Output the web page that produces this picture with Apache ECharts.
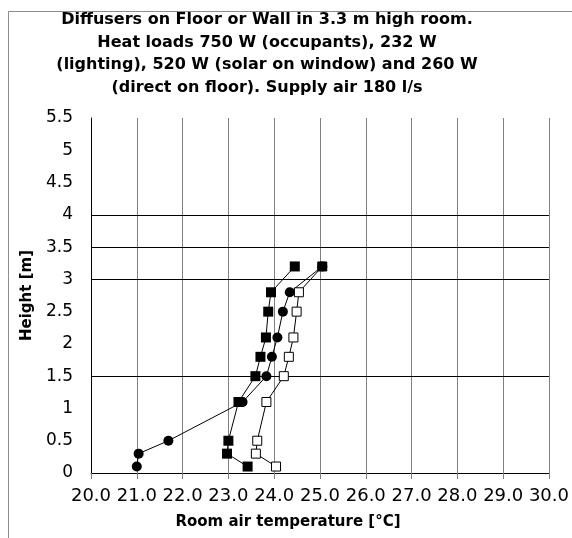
<!DOCTYPE html>
<html>
<head>
<meta charset="utf-8">
<script src="https://cdn.jsdelivr.net/npm/echarts@6/dist/echarts.min.js"></script>
<style>html,body{margin:0;padding:0;background:#fff}#c{width:572px;height:538px}</style>
</head>
<body>
<div id="c"></div>
<script>
// Data
const heights = [0.1, 0.3, 0.5, 1.1, 1.5, 1.8, 2.1, 2.5, 2.8, 3.2];
const tempFilledSquare = [23.42, 22.97, 23.0, 23.22, 23.59, 23.7, 23.82, 23.87, 23.93, 24.45];
const tempCircle = [21.0, 21.04, 21.69, 23.31, 23.83, 23.95, 24.07, 24.19, 24.34, 25.05];
const tempOpenSquare = [24.04, 23.6, 23.63, 23.83, 24.21, 24.32, 24.42, 24.49, 24.54, 25.05];
const gridHeights = [1.5, 3, 3.5, 4];
const titleText = 'Diffusers on Floor or Wall in 3.3 m high room.\nHeat loads 750 W (occupants), 232 W\n(lighting), 520 W (solar on window) and 260 W\n(direct on floor). Supply air 180 l/s';
const xName = 'Room air temperature [°C]';
const yName = 'Height [m]';

const FONT = 'DejaVu Sans';
function pairs(xs) { return xs.map((x, i) => [x, heights[i]]); }

const chart = echarts.init(document.getElementById('c'), null, {renderer: 'canvas'});
const openData = pairs(tempOpenSquare).map((p, i) => i === tempOpenSquare.length - 1 ? {value: p, itemStyle: {color: '#000'}} : p);

chart.setOption({
  animation: false,
  backgroundColor: '#fff',
  graphic: [{
    type: 'rect', left: 6, top: 9, silent: true, z: -10,
    shape: {width: 700, height: 700},
    style: {fill: 'none', stroke: '#8c8c8c', lineWidth: 1}
  }],
  title: {
    text: titleText,
    left: 262, top: 4, textAlign: 'center',
    textStyle: {fontFamily: FONT, fontWeight: 'bold', fontSize: 16, lineHeight: 22.5, color: '#000'}
  },
  grid: {left: 91, right: 23, top: 118, bottom: 65, containLabel: false},
  xAxis: {
    type: 'value', min: 20, max: 30, interval: 1,
    name: xName, nameLocation: 'middle', nameGap: 42,
    nameTextStyle: {fontFamily: FONT, fontWeight: 'bold', fontSize: 15, color: '#000', padding: [0, 64, 0, 0]},
    axisLine: {show: true, lineStyle: {color: '#000', width: 1}},
    axisTick: {show: true, length: 6, lineStyle: {color: '#808080'}},
    axisLabel: {fontFamily: FONT, fontSize: 18, color: '#000', margin: 14, formatter: v => v.toFixed(1)},
    splitLine: {show: true, lineStyle: {color: '#808080', width: 1}}
  },
  yAxis: {
    type: 'value', min: 0, max: 5.5, interval: 0.5,
    name: yName, nameLocation: 'middle', nameGap: 52,
    nameTextStyle: {fontFamily: FONT, fontWeight: 'bold', fontSize: 15, color: '#000'},
    axisLine: {show: true, lineStyle: {color: '#000', width: 1}},
    axisTick: {show: false},
    axisLabel: {fontFamily: FONT, fontSize: 17, color: '#000', margin: 18},
    splitLine: {show: false}
  },
  series: [
    {
      type: 'line', data: pairs(tempFilledSquare), symbol: 'rect', symbolSize: 10,
      lineStyle: {color: '#000', width: 1}, itemStyle: {color: '#000', borderWidth: 0},
      z: 3,
      markLine: {
        silent: true, symbol: 'none', animation: false,
        label: {show: false},
        lineStyle: {color: '#000', width: 1, type: 'solid'},
        data: gridHeights.map(h => ({yAxis: h}))
      }
    },
    {
      type: 'line', data: pairs(tempCircle), symbol: 'circle', symbolSize: 10,
      lineStyle: {color: '#000', width: 1}, itemStyle: {color: '#000', borderWidth: 0}, z: 4
    },
    {
      type: 'line', data: openData, symbol: 'rect', symbolSize: 9,
      lineStyle: {color: '#000', width: 1}, itemStyle: {color: '#fff', borderColor: '#000', borderWidth: 1}, z: 5
    }
  ]
});
</script>
</body>
</html>
